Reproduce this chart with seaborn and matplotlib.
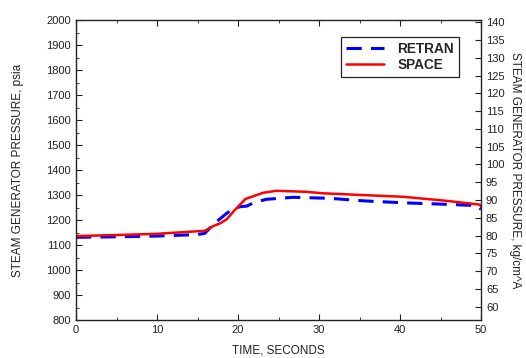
import numpy as np
import pandas as pd
import seaborn as sns
import matplotlib.pyplot as plt
from matplotlib.ticker import MultipleLocator

# data (time in s, pressure in psia)
retran_t = [0, 5, 10, 15, 15.9, 17.0, 18.6, 19.4, 20.2, 21.1, 21.9, 23.5, 26.8, 31.3, 35.4, 40.4, 45.7, 49.4, 50]
retran_p = [1131, 1133, 1136, 1142, 1147, 1184, 1227, 1244, 1253, 1256, 1269, 1283, 1291, 1287, 1277, 1269, 1263, 1258, 1243]
space_t = [0, 5, 10, 15.9, 16.95, 17.8, 18.6, 19.4, 20.2, 20.9, 23.1, 24.7, 28.4, 30.5, 35.4, 40.4, 45.7, 49.8, 50]
space_p = [1136, 1140, 1145, 1157, 1176, 1187, 1203, 1233, 1260, 1284, 1309, 1317, 1313, 1307, 1300, 1293, 1277, 1262, 1255]

sns.set_theme(style="ticks")
plt.rcParams['font.family'] = ['Liberation Sans', 'DejaVu Sans']

fig = plt.figure(figsize=(5.26, 3.58), dpi=100)
ax = fig.add_axes([0.1445, 0.106, 0.77, 0.838])

df = pd.concat([
    pd.DataFrame({'t': retran_t, 'p': retran_p, 'code': 'RETRAN'}),
    pd.DataFrame({'t': space_t, 'p': space_p, 'code': 'SPACE'}),
])
sns.lineplot(data=df[df.code == 'RETRAN'], x='t', y='p', ax=ax, color='#0000ff',
             lw=2.2, dashes=False, label='RETRAN', sort=False)
ax.lines[-1].set_dashes([5, 3])
sns.lineplot(data=df[df.code == 'SPACE'], x='t', y='p', ax=ax, color='#ff0000',
             lw=1.8, label='SPACE', sort=False)

ax.set_xlim(0, 50)
ax.set_ylim(800, 2000)
ax.xaxis.set_major_locator(MultipleLocator(10))
ax.xaxis.set_minor_locator(MultipleLocator(5))
ax.yaxis.set_major_locator(MultipleLocator(100))
ax.yaxis.set_minor_locator(MultipleLocator(50))
ax.tick_params(which='both', direction='in', top=True, labelsize=8, colors='#222222')
ax.tick_params(which='major', length=4, width=0.8)
ax.tick_params(which='minor', length=2, width=0.6)
ax.set_xlabel('TIME, SECONDS', fontsize=8.5, color='#222222', labelpad=7)
ax.set_ylabel('STEAM GENERATOR PRESSURE, psia', fontsize=8.5, color='#222222', labelpad=16)
for s in ax.spines.values():
    s.set_color('#222222')
    s.set_linewidth(1.0)

ax2 = ax.twinx()
ax2.set_ylim(800 * 0.070307, 2000 * 0.070307)
ax2.set_yticks(np.arange(60, 141, 5))
ax2.tick_params(which='both', direction='in', labelsize=8, colors='#222222', length=4, width=0.8)
ax2.set_ylabel('STEAM GENERATOR PRESSURE, kg/cm^A', fontsize=8.5, color='#222222',
               rotation=-90, labelpad=12)
for s in ax2.spines.values():
    s.set_visible(False)

leg = ax.legend(loc='upper right', bbox_to_anchor=(0.962, 0.965), fancybox=False,
                edgecolor='#222222', framealpha=1, prop={'weight': 'bold', 'size': 9.8},
                handlelength=2.8, borderpad=0.35, labelspacing=0.15, handletextpad=1.0)
leg.get_frame().set_linewidth(0.9)

fig.savefig('out.png', dpi=100)
